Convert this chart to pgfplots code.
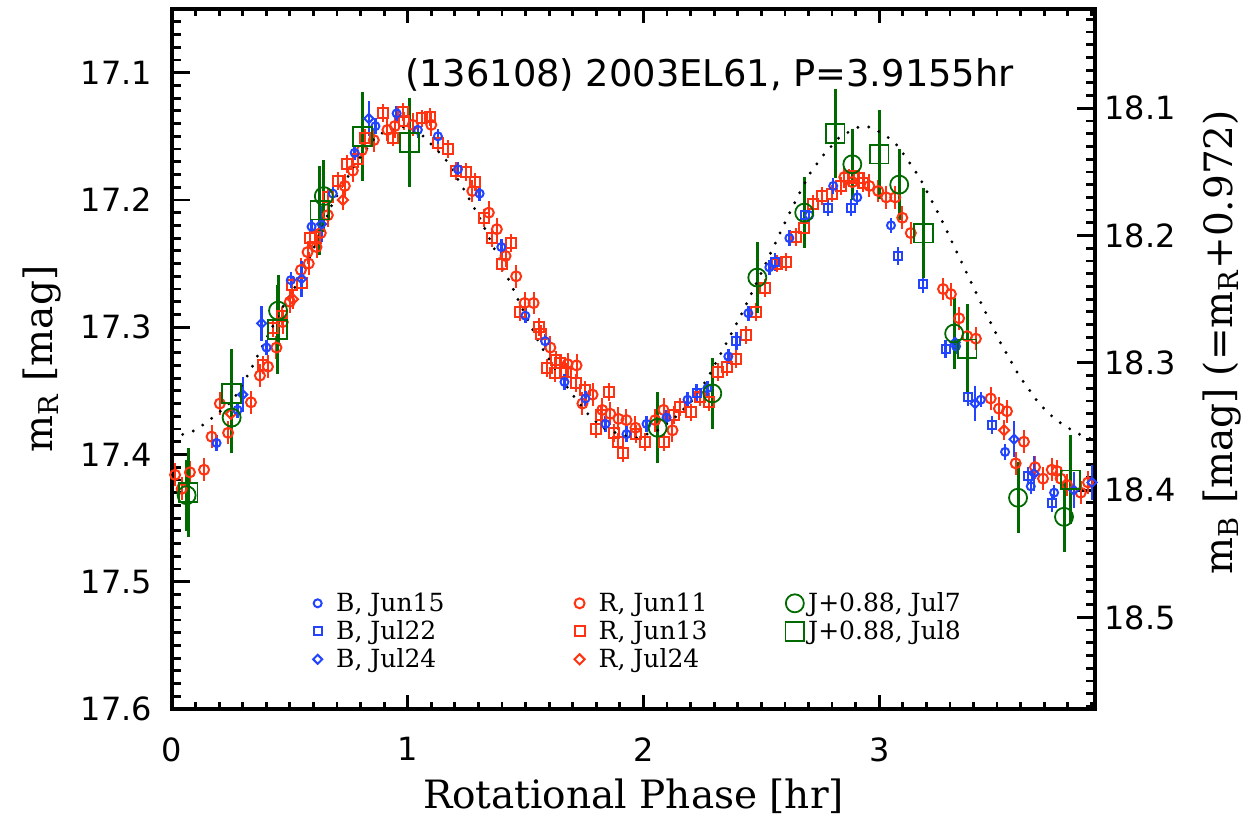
\documentclass[border=0pt]{standalone}
\usepackage{fontspec}
\setmainfont{DejaVu Serif}
\newfontfamily\tickfont{DejaVu Sans}
\usepackage{pgfplots}
\pgfplotsset{compat=1.18}
\definecolor{bblue}{HTML}{2244FF}
\definecolor{rred}{HTML}{FF3311}
\definecolor{ggreen}{HTML}{006A00}

\pgfplotsset{
  base/.style={scale only axis, width=461.5pt, height=350pt,
    at={(0,0)}, anchor=south west,
    xmin=0, xmax=3.9155, y dir=reverse,
    tick align=inside,
    axis line style={-, line width=1.6pt},
    every tick/.style={black, line width=1.4pt},
    /pgf/number format/assume math mode=true},
  ticknums/.style={font=\tickfont\fontsize{16}{18}\selectfont,
    /pgf/number format/fixed, /pgf/number format/fixed zerofill,
    /pgf/number format/precision=1},
}

\begin{document}
\begin{tikzpicture}
\useasboundingbox (-86pt,-53.5pt) rectangle (538pt,354.5pt);

% left y ticks
\begin{axis}[base, ymin=17.05, ymax=17.6,
  axis x line=none, axis y line*=left,
  major tick length=9pt, minor tick length=4.5pt,
  ytick={17.1,17.2,17.3,17.4,17.5,17.6},
  minor ytick={17.05,17.06,...,17.6},
  yticklabel style={ticknums, xshift=-6.5pt},
  ylabel={m\textsubscript{R} [mag]},
  ylabel style={font=\fontsize{19.5}{22}\selectfont,
    at={(axis description cs:-0.141,0.5)}, anchor=center},
]
\end{axis}

% right y ticks
\begin{axis}[base, ymin=18.022, ymax=18.572,
  axis x line=none, axis y line*=right,
  major tick length=9pt, minor tick length=4.5pt,
  ytick={18.1,18.2,18.3,18.4,18.5},
  minor ytick={18.03,18.04,...,18.57},
  yticklabel style={ticknums, xshift=1.2pt},
  ylabel={m\textsubscript{B} [mag] (=m\textsubscript{R}+0.972)},
  ylabel style={font=\fontsize{19.5}{22}\selectfont,
    at={(axis description cs:1.1376,0.524)}, anchor=center},
]
\end{axis}

% frame, x ticks and data
\begin{axis}[base, ymin=17.05, ymax=17.6,
  major tick length=7pt, minor tick length=3.5pt,
  xtick={0,1,2,3}, minor xtick={0.1,0.2,...,3.9},
  xtick pos=both, ytick=\empty,
  xticklabel style={font=\tickfont\fontsize{16}{18}\selectfont, yshift=-10.7pt},
  xlabel={Rotational Phase [hr]},
  xlabel style={font=\fontsize{19.5}{22}\selectfont,
    at={(axis description cs:0.5,-0.124)}, anchor=center},
  legend columns=3,
  legend cell align=left,
  legend style={draw=none, fill=none, font=\fontsize{12.5}{13}\selectfont,
    at={(axis description cs:0.146,0.173)}, anchor=north west,
    row sep=3pt, nodes={inner ysep=0pt, inner xsep=2pt},
    /tikz/column 1/.style={column sep=5pt},
    /tikz/column 2/.style={column sep=63pt},
    /tikz/column 3/.style={column sep=5pt},
    /tikz/column 4/.style={column sep=37pt}},
]

% R, Jun11
\addplot[forget plot, only marks, rred, mark=o, mark size=2.5pt,
  mark options={solid, line width=1pt},
  error bars/.cd, y dir=both, y fixed=0.009, error mark=none,
  error bar style={line width=1pt, rred}] coordinates {
(0.013,17.416) (0.041,17.427) (0.076,17.414) (0.136,17.412)
(0.168,17.386) (0.203,17.360) (0.238,17.383) (0.335,17.359)
(0.373,17.338) (0.407,17.331) (0.443,17.316) (0.470,17.296)
(0.500,17.280) (0.547,17.255) (0.580,17.250) (0.575,17.241)
(0.613,17.237) (0.631,17.226) (0.661,17.212) (0.733,17.189)
(0.767,17.177) (0.805,17.161) (0.856,17.153) (0.914,17.145)
(0.945,17.142) (1.021,17.141) (1.100,17.141) (1.274,17.193)
(1.344,17.210) (1.378,17.223) (1.415,17.244) (1.460,17.260)
(1.496,17.281) (1.534,17.281) (1.605,17.316) (1.678,17.329)
(1.716,17.330) (1.741,17.360) (1.784,17.353) (1.825,17.365)
(1.859,17.368) (1.894,17.372) (1.928,17.373) (1.966,17.379)
(2.050,17.373) (2.085,17.365) (2.123,17.381) (2.852,17.182)
(2.886,17.186) (2.958,17.189) (2.996,17.193) (3.030,17.198)
(3.068,17.198) (3.098,17.214) (3.134,17.226) (3.271,17.270)
(3.304,17.274) (3.339,17.293) (3.373,17.307) (3.410,17.309)
(3.473,17.356) (3.508,17.364) (3.542,17.366) (3.579,17.407)
(3.614,17.390) (3.661,17.410) (3.695,17.419) (3.732,17.412)
(3.754,17.413) (3.770,17.419) (3.797,17.424) (3.855,17.430)
(3.886,17.422)
};

% R, Jun13
\addplot[forget plot, only marks, rred, mark=square, mark size=2.5pt,
  mark options={solid, line width=1pt},
  error bars/.cd, y dir=both, y fixed=0.007, error mark=none,
  error bar style={line width=1pt, rred}] coordinates {
(0.386,17.330) (0.428,17.301) (0.466,17.291) (0.507,17.267)
(0.550,17.265) (0.585,17.230) (0.606,17.229) (0.661,17.198)
(0.703,17.185) (0.744,17.172) (0.787,17.168) (0.818,17.151)
(0.894,17.132) (0.936,17.151) (0.979,17.131) (0.983,17.138)
(1.060,17.136) (1.093,17.135) (1.130,17.155) (1.170,17.160)
(1.206,17.177) (1.248,17.178) (1.287,17.186) (1.322,17.214)
(1.359,17.230) (1.401,17.250) (1.439,17.234) (1.475,17.288)
(1.555,17.300) (1.567,17.305) (1.589,17.332) (1.623,17.336)
(1.630,17.326) (1.647,17.328) (1.672,17.335) (1.715,17.344)
(1.754,17.349) (1.797,17.380) (1.821,17.369) (1.852,17.351)
(1.877,17.383) (1.890,17.390) (1.915,17.399) (1.970,17.384)
(2.008,17.390) (2.085,17.390) (2.131,17.369) (2.155,17.363)
(2.202,17.367) (2.240,17.355) (2.280,17.359) (2.318,17.335)
(2.356,17.331) (2.394,17.325) (2.436,17.306) (2.479,17.288)
(2.517,17.269) (2.568,17.250) (2.606,17.249) (2.647,17.229)
(2.682,17.222) (2.720,17.203) (2.758,17.197) (2.801,17.195)
(2.838,17.189) (2.873,17.183) (2.890,17.181) (2.915,17.183)
(2.930,17.187)
};

% R, Jul24
\addplot[forget plot, only marks, rred, mark=square, mark size=1.8pt,
  mark options={solid, line width=1pt, rotate=45},
  error bars/.cd, y dir=both, y fixed=0.008, error mark=none,
  error bar style={line width=1pt, rred}] coordinates {
(0.250,17.368) (0.513,17.278) (0.725,17.200) (3.530,17.381)
};

% B, Jun15
\addplot[forget plot, only marks, bblue, mark=o, mark size=2pt,
  mark options={solid, line width=1pt},
  error bars/.cd, y dir=both, y fixed=0.006, error mark=none,
  error bar style={line width=1.2pt, bblue}] coordinates {
(0.189,17.391) (0.278,17.365) (0.401,17.316) (0.504,17.263)
(0.592,17.221) (0.682,17.195) (0.775,17.163) (0.863,17.142)
(0.953,17.132) (1.043,17.145) (1.128,17.150) (1.213,17.176)
(1.305,17.195) (1.397,17.237) (1.499,17.291) (1.583,17.311)
(1.665,17.343) (1.754,17.356) (1.839,17.376) (1.928,17.384)
(2.013,17.376) (2.098,17.371) (2.187,17.357) (2.271,17.348)
(2.360,17.323) (2.445,17.289) (2.534,17.253) (2.619,17.230)
(2.703,17.212) (2.805,17.189) (2.907,17.198) (3.050,17.220)
(3.326,17.315) (3.431,17.357) (3.534,17.398) (3.643,17.425)
(3.742,17.430)
};

% B, Jul22
\addplot[forget plot, only marks, bblue, mark=square, mark size=2pt,
  mark options={solid, line width=1pt},
  error bars/.cd, y dir=both, y fixed=0.007, error mark=none,
  error bar style={line width=1.2pt, bblue}] coordinates {
(2.225,17.352) (2.394,17.311) (2.559,17.249) (2.686,17.212)
(2.784,17.206) (2.880,17.206) (3.080,17.244) (3.187,17.266)
(3.282,17.317) (3.377,17.355) (3.479,17.377) (3.631,17.417)
(3.732,17.438)
};

% B, Jul24
\addplot[forget plot, only marks, bblue, mark=square, mark size=1.6pt,
  mark options={solid, line width=1pt, rotate=45},
  error bars/.cd, y dir=both, y fixed=0.014, error mark=none,
  error bar style={line width=1.2pt, bblue}] coordinates {
(0.300,17.353) (0.380,17.297) (0.550,17.262) (0.634,17.219)
(0.835,17.136) (3.322,17.312) (3.407,17.360) (3.572,17.388)
(3.657,17.415) (3.826,17.428) (3.903,17.422)
};

% J+0.88, Jul7
\addplot[forget plot, only marks, ggreen, mark=o, mark size=4.5pt,
  mark options={solid, line width=0.9pt},
  error bars/.cd, y dir=both, y fixed=0.028, error mark=none,
  error bar style={line width=1.5pt, ggreen}] coordinates {
(0.062,17.432) (0.253,17.371) (0.450,17.287) (0.644,17.197)
(2.060,17.379) (2.292,17.352) (2.483,17.261) (2.682,17.210)
(2.886,17.172) (3.085,17.188) (3.318,17.305) (3.589,17.434)
(3.784,17.449)
};

% J+0.88, Jul8
\addplot[forget plot, only marks, ggreen, mark=square, mark size=4.7pt,
  mark options={solid, line width=0.9pt},
  error bars/.cd, y dir=both, y fixed=0.035, error mark=none,
  error bar style={line width=1.5pt, ggreen}] coordinates {
(0.068,17.430) (0.253,17.352) (0.448,17.302) (0.627,17.208)
(0.808,17.150) (1.008,17.155) (2.813,17.148) (3.000,17.164)
(3.187,17.226) (3.373,17.317) (3.812,17.420)
};

% model curve
\addplot[forget plot, black, line width=1.6pt, line cap=round,
  dash pattern=on 0pt off 5.6pt, no marks] coordinates {
(0.000,17.387) (0.100,17.381) (0.180,17.370) (0.260,17.357)
(0.330,17.335) (0.380,17.316) (0.470,17.284) (0.540,17.263)
(0.620,17.230) (0.680,17.203) (0.780,17.171) (0.870,17.149)
(0.970,17.142) (1.050,17.147) (1.157,17.167) (1.233,17.190)
(1.305,17.214) (1.369,17.239) (1.432,17.264) (1.475,17.281)
(1.559,17.313) (1.636,17.336) (1.695,17.352) (1.758,17.367)
(1.826,17.379) (1.911,17.385) (1.970,17.387) (2.060,17.381)
(2.140,17.370) (2.210,17.357) (2.266,17.342) (2.336,17.318)
(2.407,17.293) (2.470,17.269) (2.534,17.244) (2.597,17.219)
(2.661,17.195) (2.710,17.178) (2.767,17.164) (2.835,17.150)
(2.920,17.142) (2.970,17.143) (3.055,17.153) (3.085,17.159)
(3.170,17.182) (3.263,17.215) (3.347,17.248) (3.432,17.281)
(3.517,17.313) (3.593,17.338) (3.678,17.360) (3.750,17.373)
(3.835,17.383) (3.9155,17.389)
};

\addlegendimage{only marks, bblue, mark=o, mark size=2pt, mark options={line width=1pt}}
\addlegendentry{B, Jun15}
\addlegendimage{only marks, rred, mark=o, mark size=2.5pt, mark options={line width=1pt}}
\addlegendentry{R, Jun11}
\addlegendimage{only marks, ggreen, mark=o, mark size=4.5pt, mark options={line width=0.9pt}}
\addlegendentry{J+0.88, Jul7}
\addlegendimage{only marks, bblue, mark=square, mark size=2pt, mark options={line width=1pt}}
\addlegendentry{B, Jul22}
\addlegendimage{only marks, rred, mark=square, mark size=2.5pt, mark options={line width=1pt}}
\addlegendentry{R, Jun13}
\addlegendimage{only marks, ggreen, mark=square, mark size=4.7pt, mark options={line width=0.9pt}}
\addlegendentry{J+0.88, Jul8}
\addlegendimage{only marks, bblue, mark=square, mark size=1.6pt, mark options={line width=1pt, rotate=45}}
\addlegendentry{B, Jul24}
\addlegendimage{only marks, rred, mark=square, mark size=1.8pt, mark options={line width=1pt, rotate=45}}
\addlegendentry{R, Jul24}

\node[font=\tickfont\fontsize{18.4}{21}\selectfont, anchor=base]
  at (axis cs:2.28,17.111) {(136108) 2003EL61, P=3.9155hr};
\end{axis}
\end{tikzpicture}
\end{document}
